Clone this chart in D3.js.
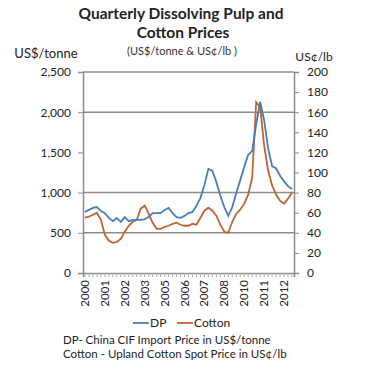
<!DOCTYPE html>
<html>
<head>
<meta charset="utf-8">
<script src="https://cdn.jsdelivr.net/npm/d3@7"></script>
<style>
  body { margin: 0; background: #fff; }
  svg { font-family: Lato, "Open Sans", sans-serif; }
</style>
</head>
<body>
<svg class="chart"></svg>
<script>
const width = 378;
const height = 376;

// quarterly categories, 2000Q1 .. 2013Q1
const quarters = [
    "2000Q1", "2000Q2", "2000Q3", "2000Q4", "2001Q1", "2001Q2", "2001Q3", "2001Q4",
    "2002Q1", "2002Q2", "2002Q3", "2002Q4", "2003Q1", "2003Q2", "2003Q3", "2003Q4",
    "2004Q1", "2004Q2", "2004Q3", "2004Q4", "2005Q1", "2005Q2", "2005Q3", "2005Q4",
    "2006Q1", "2006Q2", "2006Q3", "2006Q4", "2007Q1", "2007Q2", "2007Q3", "2007Q4",
    "2008Q1", "2008Q2", "2008Q3", "2008Q4", "2009Q1", "2009Q2", "2009Q3", "2009Q4",
    "2010Q1", "2010Q2", "2010Q3", "2010Q4", "2011Q1", "2011Q2", "2011Q3", "2011Q4",
    "2012Q1", "2012Q2", "2012Q3", "2012Q4", "2013Q1"
];

// dissolving pulp, US$/tonne (left axis)
const dp = [
    760, 785, 810, 820, 770, 745, 685, 645, 685, 635,
    695, 645, 660, 660, 660, 670, 695, 745, 745, 745,
    785, 810, 745, 695, 685, 710, 745, 760, 835, 935,
    1095, 1295, 1270, 1130, 960, 820, 710, 820, 995, 1155,
    1320, 1470, 1520, 1850, 2130, 1900, 1550, 1330, 1300, 1210,
    1140, 1080, 1045
];

// cotton, US cents/lb (right axis)
const cotton = [
    55, 56, 58, 60, 53, 38, 32, 30, 31, 34,
    41, 47, 51, 53, 64, 67, 59, 50, 44, 44,
    46, 47, 49, 50, 48, 47, 47, 49, 48, 55,
    62, 65, 62, 57, 48, 41, 40, 51, 59, 63,
    69, 78, 95, 170, 165, 127, 102, 87, 78, 72,
    69, 74, 80
];

const leftTicks = [0, 500, 1000, 1500, 2000, 2500];
const gridValues = [500, 1000, 2000, 2500];
const rightTicks = [0, 20, 40, 60, 80, 100, 120, 140, 160, 180, 200];

const dpColor = '#4a7ebb';
const cottonColor = '#c0652f';
const gridColor = '#8c8c8c';

const plot = { left: 83, right: 294, top: 72, bottom: 273 };

const svg = d3.select('svg.chart')
    .attr('width', width)
    .attr('height', height);

const x = d3.scaleBand()
    .domain(quarters)
    .range([plot.left, plot.right]);

const xPos = d => x(d) + x.bandwidth() / 2;

const yLeft = d3.scaleLinear()
    .domain([0, 2500])
    .range([plot.bottom, plot.top]);

const yRight = d3.scaleLinear()
    .domain([0, 200])
    .range([plot.bottom, plot.top]);

// gridlines
svg.append('g')
    .selectAll('line')
    .data(gridValues)
    .join('line')
    .attr('x1', plot.left)
    .attr('x2', plot.right)
    .attr('y1', d => yLeft(d))
    .attr('y2', d => yLeft(d))
    .attr('stroke', gridColor)
    .attr('stroke-width', 1.5);

// left axis
const leftAxis = svg.append('g')
    .attr('transform', `translate(${plot.left},0)`)
    .call(d3.axisLeft(yLeft).tickValues(leftTicks).tickSize(5).tickPadding(7)
        .tickFormat(d3.format(',')));

// right axis
const rightAxis = svg.append('g')
    .attr('transform', `translate(${plot.right},0)`)
    .call(d3.axisRight(yRight).tickValues(rightTicks).tickSize(5).tickPadding(8));

// bottom axis, tick per quarter, label every 5th
const bottomAxis = svg.append('g')
    .attr('transform', `translate(0,${plot.bottom})`)
    .call(d3.axisBottom(x).tickSize(4).tickPadding(3)
        .tickFormat((d, i) => i % 5 === 0 ? d.slice(0, 4) : ''));

[leftAxis, rightAxis, bottomAxis].forEach(g => {
    g.select('.domain').attr('stroke', gridColor).attr('stroke-width', 1.5);
    g.selectAll('.tick line').attr('stroke', gridColor);
    g.selectAll('.tick text')
        .attr('fill', '#222')
        .style('font-size', '12px')
        .style('font-family', 'Lato, sans-serif');
});

bottomAxis.selectAll('.tick line').attr('stroke', '#aaa');

bottomAxis.selectAll('.tick text')
    .attr('transform', 'rotate(-90)')
    .attr('text-anchor', 'end')
    .attr('x', -7)
    .attr('y', 0)
    .attr('dy', '0.35em')
    .style('font-size', '11.5px');

// lines
const dpLine = d3.line()
    .x((d, i) => xPos(quarters[i]))
    .y(d => yLeft(d));

const cottonLine = d3.line()
    .x((d, i) => xPos(quarters[i]))
    .y(d => yRight(d));

svg.append('path')
    .datum(cotton)
    .attr('d', cottonLine)
    .attr('fill', 'none')
    .attr('stroke', cottonColor)
    .attr('stroke-width', 1.8);

svg.append('path')
    .datum(dp)
    .attr('d', dpLine)
    .attr('fill', 'none')
    .attr('stroke', dpColor)
    .attr('stroke-width', 1.8);

// titles
svg.append('text')
    .attr('x', 181).attr('y', 19)
    .attr('text-anchor', 'middle')
    .style('font-weight', 'bold')
    .style('font-size', '15.5px')
    .attr('fill', '#222')
    .text('Quarterly Dissolving Pulp and');

svg.append('text')
    .attr('x', 183).attr('y', 38)
    .attr('text-anchor', 'middle')
    .style('font-weight', 'bold')
    .style('font-size', '15.5px')
    .attr('fill', '#222')
    .text('Cotton Prices');

svg.append('text')
    .attr('x', 182).attr('y', 55)
    .attr('text-anchor', 'middle')
    .style('font-size', '11px')
    .attr('fill', '#333')
    .text('(US$/tonne & US¢/lb )');

svg.append('text')
    .attr('x', 46).attr('y', 58)
    .attr('text-anchor', 'middle')
    .style('font-size', '13px')
    .attr('fill', '#222')
    .text('US$/tonne');

svg.append('text')
    .attr('x', 314).attr('y', 61)
    .attr('text-anchor', 'middle')
    .style('font-size', '12px')
    .attr('fill', '#222')
    .text('US¢/lb');

// legend
const legend = svg.append('g').attr('transform', 'translate(0,327)');
const legendItems = [
    { name: 'DP', color: dpColor, x: 133 },
    { name: 'Cotton', color: cottonColor, x: 177 }
];
legendItems.forEach(item => {
    legend.append('line')
        .attr('x1', item.x).attr('x2', item.x + 16)
        .attr('y1', -4).attr('y2', -4)
        .attr('stroke', item.color)
        .attr('stroke-width', 1.8);
    legend.append('text')
        .attr('x', item.x + 17).attr('y', 0)
        .style('font-size', '12px')
        .attr('fill', '#222')
        .text(item.name);
});

// footnotes
const notes = [
    'DP- China CIF Import Price in US$/tonne',
    'Cotton - Upland Cotton Spot Price in US¢/lb'
];
svg.append('g')
    .selectAll('text')
    .data(notes)
    .join('text')
    .attr('x', 63)
    .attr('y', (d, i) => 344 + i * 14)
    .style('font-size', '11.5px')
    .attr('fill', '#222')
    .text(d => d);
</script>
</body>
</html>
